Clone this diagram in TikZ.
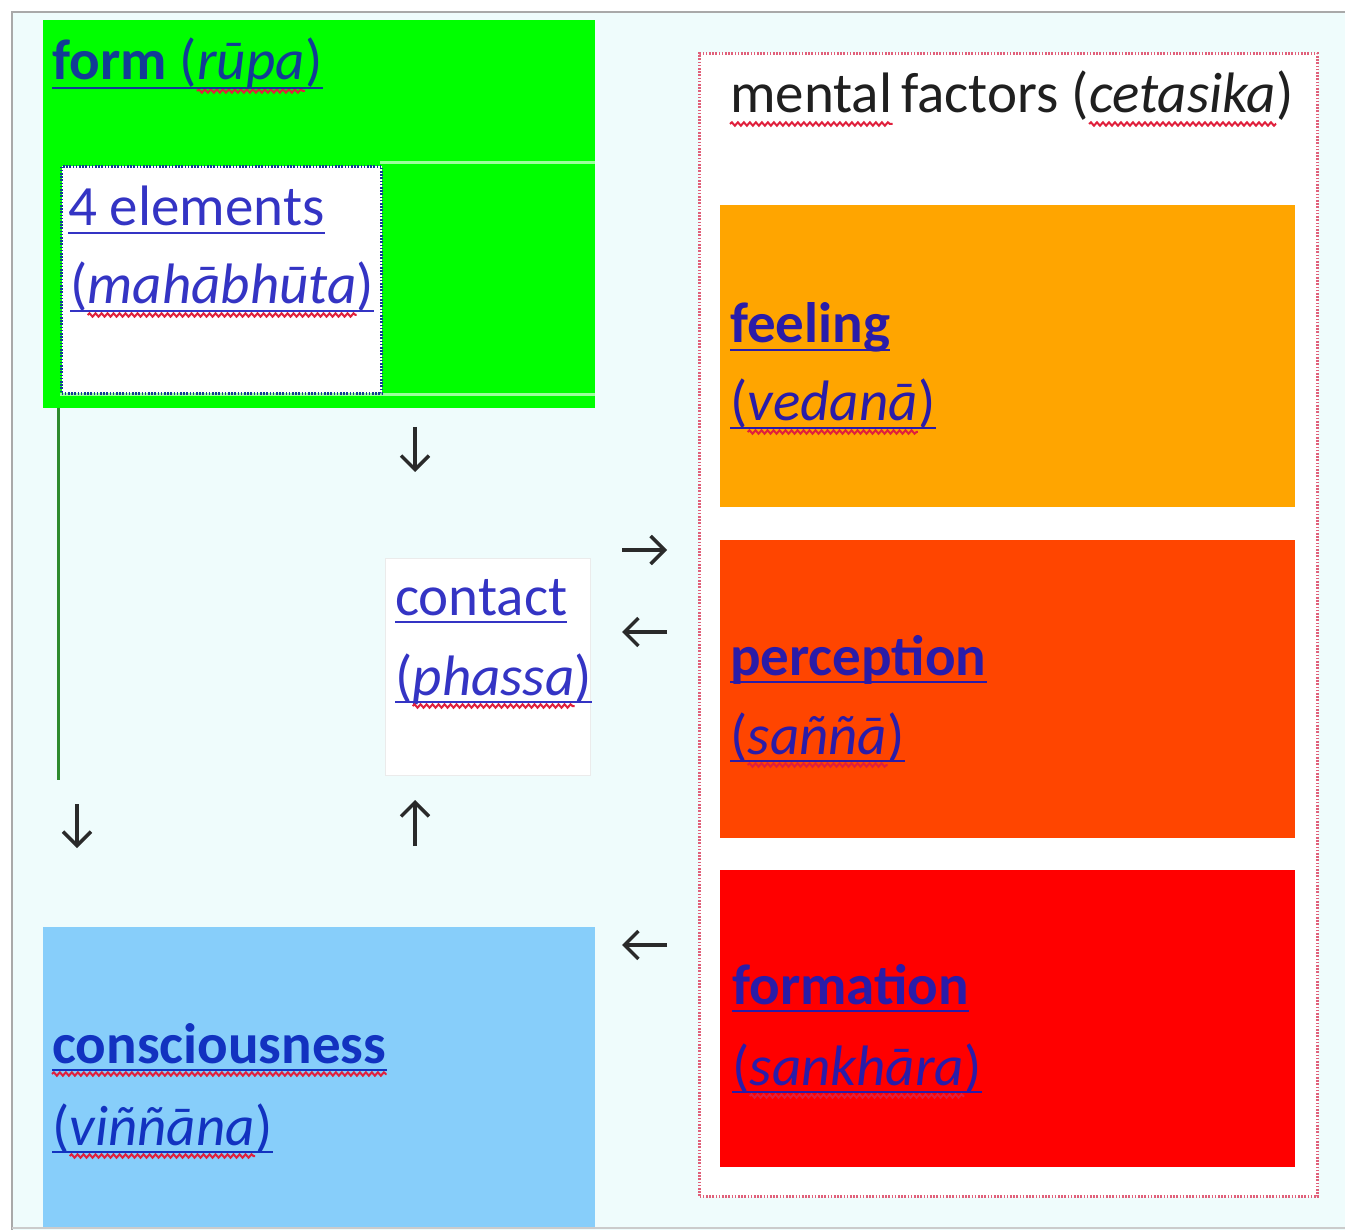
\documentclass[tikz,border=0pt]{standalone}
\usepackage{fontspec}
\setmainfont{Carlito}
\usetikzlibrary{arrows.meta,decorations.pathmorphing}
\definecolor{bgcyan}{HTML}{EFFCFC}
\definecolor{framegray}{HTML}{A9A9A9}
\definecolor{formgreen}{HTML}{00FF00}
\definecolor{lightgreenline}{HTML}{9CFF9C}
\definecolor{feelorange}{HTML}{FFA500}
\definecolor{percred}{HTML}{FF4500}
\definecolor{formred}{HTML}{FF0000}
\definecolor{conblue}{HTML}{87CEFA}
\definecolor{darkblue}{HTML}{123C96}
\definecolor{linkblue}{HTML}{3434C4}
\definecolor{boldblue}{HTML}{2A1CA8}
\definecolor{conscblue}{HTML}{1232C0}
\definecolor{wavered}{HTML}{E0203C}
\definecolor{dotred}{HTML}{E0607A}
\definecolor{arrowgray}{HTML}{2A2A2A}
\definecolor{linegreen}{HTML}{2E8B2E}
\begin{document}
\begin{tikzpicture}[x=1pt,y=-1pt,
  lbl/.style={inner sep=0pt, anchor=base west, font=\fontsize{57}{68}\selectfont},
  boxn/.style={inner sep=0pt, anchor=north west, draw=none},
  arr/.style={line width=3.4pt, draw=arrowgray, -{Straight Barb[length=14pt,width=28pt]}},
  ulline/.style={line width=2.5pt},
  dotb/.style={dash pattern=on 1.6pt off 1.6pt, line width=3pt},
  wave/.style={draw=wavered, line width=2pt, decorate, decoration={snake, amplitude=1.7pt, segment length=6pt}}]
\useasboundingbox (0,0) rectangle (1345,1230);
% background and frame
\fill[white] (0,0) rectangle (1345,1230);
\fill[bgcyan] (12,12) rectangle (1345,1230);
\draw[framegray, line width=2.5pt] (12,1230) -- (12,12) -- (1345,12);
\draw[framegray!60, line width=2pt] (12,1228) -- (1345,1228);

% form block
\node[boxn, fill=formgreen, minimum width=552pt, minimum height=388pt] (formbox) at (43,20) {};
\draw[lightgreenline, line width=3pt] (380,163) -- (595,163);
\draw[lightgreenline, line width=3pt] (60,395) -- (595,395);
\node[boxn, fill=white, draw=darkblue, dotb, minimum width=320pt, minimum height=227pt] (elembox) at (60,165) {};
\coordinate (gl1) at (58,408);
\coordinate (gl2) at (58,780);
\draw[linegreen, line width=3pt] (gl1) -- (gl2);

% mental factors block
\node[boxn, fill=white, draw=dotred, dotb, minimum width=618pt, minimum height=1143pt] (mentbox) at (698,52) {};
\node[boxn, fill=feelorange, minimum width=575pt, minimum height=302pt] (feelbox) at (720,205) {};
\node[boxn, fill=percred, minimum width=575pt, minimum height=298pt] (percbox) at (720,540) {};
\node[boxn, fill=formred, minimum width=575pt, minimum height=297pt] (fmtbox) at (720,870) {};

% contact and consciousness
\node[boxn, fill=white, draw=black!8, line width=1pt, minimum width=205pt, minimum height=217pt] (contbox) at (385,558) {};
\node[boxn, fill=conblue, minimum width=552pt, minimum height=300pt] (consbox) at (43,927) {};

% texts
\node[lbl, text=darkblue] (tform) at (52,80) {\textbf{form} (};
\node[lbl, text=darkblue] (trupa) at (tform.base east) {\textit{rūpa}};
\node[lbl, text=darkblue] (tformc) at (trupa.base east) {)};

\node[lbl, text=linkblue] (telem) at (68,226) {4 elements};
\node[lbl, text=linkblue] (tmahao) at (70,304) {(};
\node[lbl, text=linkblue] (tmaha) at (tmahao.base east) {\textit{mahābhūta}};
\node[lbl, text=linkblue] (tmahac) at (tmaha.base east) {)};

\node[lbl, text=black!88] (tment) at (730,113) {mental};
\node[lbl, text=black!88] (tfact) at (tment.base east) {\hspace{0.15em}factors (};
\node[lbl, text=black!88] (tceta) at (tfact.base east) {\textit{cetasika}};
\node[lbl, text=black!88] (tcetc) at (tceta.base east) {)};

\node[lbl, text=boldblue] (tfeel) at (730,343) {\textbf{feeling}};
\node[lbl, text=boldblue] (tvedao) at (730,421) {(};
\node[lbl, text=boldblue] (tveda) at (tvedao.base east) {\textit{vedanā}};
\node[lbl, text=boldblue] (tvedac) at (tveda.base east) {)};

\node[lbl, text=boldblue] (tperc) at (730,675) {\textbf{perception}};
\node[lbl, text=boldblue] (tsanno) at (730,754) {(};
\node[lbl, text=boldblue] (tsann) at (tsanno.base east) {\textit{saññā}};
\node[lbl, text=boldblue] (tsannc) at (tsann.base east) {)};

\node[lbl, text=boldblue] (tfmt) at (732,1004) {\textbf{formation}};
\node[lbl, text=boldblue] (tsanko) at (732,1085) {(};
\node[lbl, text=boldblue] (tsank) at (tsanko.base east) {\textit{sankhāra}};
\node[lbl, text=boldblue] (tsankc) at (tsank.base east) {)};

\node[lbl, text=conscblue] (tcons) at (52,1063) {\textbf{consciousness}};
\node[lbl, text=conscblue] (tvinno) at (52,1145) {(};
\node[lbl, text=conscblue] (tvinn) at (tvinno.base east) {\textit{viññāna}};
\node[lbl, text=conscblue] (tvinnc) at (tvinn.base east) {)};

\node[lbl, text=linkblue] (tcont) at (395,615) {contact};
\node[lbl, text=linkblue] (tphaso) at (395,695) {(};
\node[lbl, text=linkblue] (tphas) at (tphaso.base east) {\textit{phassa}};
\node[lbl, text=linkblue] (tphasc) at (tphas.base east) {)};

% red wavy spell-check lines
\foreach \n in {trupa,tmaha,tment,tceta,tveda,tsann,tsank,tcons,tvinn,tphas}
  \draw[wave] ([yshift=-11pt]\n.base west) -- ([yshift=-11pt]\n.base east);

% straight underlines
\draw[ulline, darkblue] ([yshift=-8pt]tform.base west) -- ([yshift=-8pt]tformc.base east);
\draw[ulline, linkblue] ([yshift=-7pt]telem.base west) -- ([yshift=-7pt]telem.base east);
\draw[ulline, linkblue] ([yshift=-7pt]tmahao.base west) -- ([yshift=-7pt]tmahac.base east);
\draw[ulline, linkblue] ([yshift=-7pt]tcont.base west) -- ([yshift=-7pt]tcont.base east);
\draw[ulline, linkblue] ([yshift=-7pt]tphaso.base west) -- ([yshift=-7pt]tphasc.base east);
\draw[ulline, boldblue] ([yshift=-7pt]tfeel.base west) -- ([yshift=-7pt]tfeel.base east);
\draw[ulline, boldblue] ([yshift=-7pt]tvedao.base west) -- ([yshift=-7pt]tvedac.base east);
\draw[ulline, boldblue] ([yshift=-7pt]tperc.base west) -- ([yshift=-7pt]tperc.base east);
\draw[ulline, boldblue] ([yshift=-7pt]tsanno.base west) -- ([yshift=-7pt]tsannc.base east);
\draw[ulline, boldblue] ([yshift=-7pt]tfmt.base west) -- ([yshift=-7pt]tfmt.base east);
\draw[ulline, boldblue] ([yshift=-7pt]tsanko.base west) -- ([yshift=-7pt]tsankc.base east);
\draw[ulline, conscblue] ([yshift=-7pt]tcons.base west) -- ([yshift=-7pt]tcons.base east);
\draw[ulline, conscblue] ([yshift=-7pt]tvinno.base west) -- ([yshift=-7pt]tvinnc.base east);

% arrows
\coordinate (a1s) at (415,427); \coordinate (a1e) at (415,472);
\coordinate (a2s) at (77,804);  \coordinate (a2e) at (77,848);
\coordinate (a3s) at (415,846); \coordinate (a3e) at (415,800);
\coordinate (a4s) at (622,550); \coordinate (a4e) at (667,550);
\coordinate (a5s) at (667,632); \coordinate (a5e) at (622,632);
\coordinate (a6s) at (667,945); \coordinate (a6e) at (622,945);
\draw[arr] (a1s) -- (a1e);
\draw[arr] (a2s) -- (a2e);
\draw[arr] (a3s) -- (a3e);
\draw[arr] (a4s) -- (a4e);
\draw[arr] (a5s) -- (a5e);
\draw[arr] (a6s) -- (a6e);
\end{tikzpicture}
\end{document}
